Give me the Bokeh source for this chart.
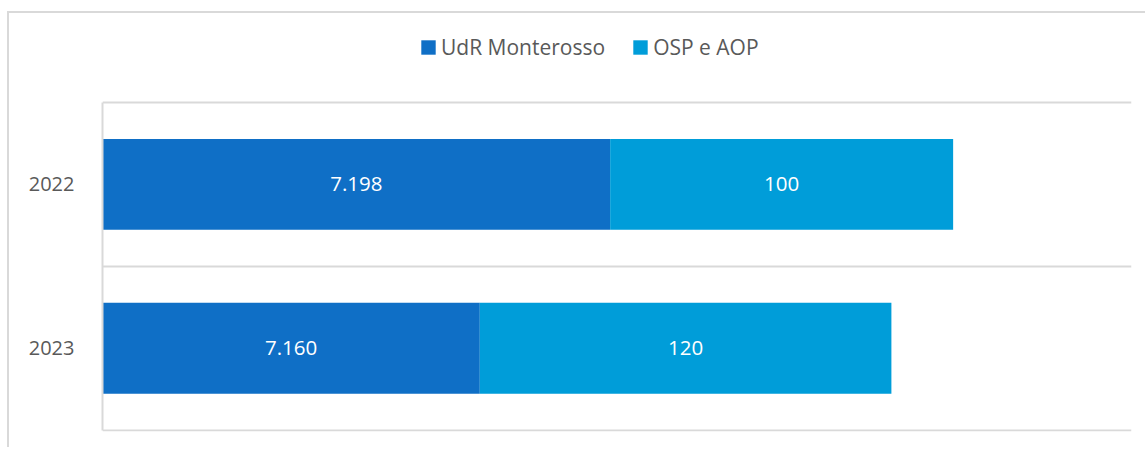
from bokeh.plotting import figure
from bokeh.models import Range1d, FixedTicker, Legend, LegendItem, ColumnDataSource
from bokeh.embed import file_html
from bokeh.resources import INLINE
from bokeh.core.properties import value

years = ["2022", "2023"]
udr = [7198, 7160]
osp = [100, 120]
series_names = ["UdR Monterosso", "OSP e AOP"]
colors = ["#0F6FC6", "#009DD9"]
X_MIN, X_MAX = 7050, 7350

FONT = "Open Sans"
n = len(years)
ypos = [n - i - 0.5 for i in range(n)]
TOP_PAD = 0.543   # empty band above the bars that holds the legend
BOT_PAD = 0.008


def fmt(v):
    return f"{v:,}".replace(",", ".")


end1 = udr
end2 = [a + b for a, b in zip(udr, osp)]
src = ColumnDataSource(dict(
    y=ypos,
    l1=[0] * n, r1=end1,
    l2=end1, r2=end2,
    c1=[(max(0, X_MIN) + r) / 2 for r in end1],
    c2=[(l + r) / 2 for l, r in zip(end1, end2)],
    t1=[fmt(v) for v in udr],
    t2=[fmt(v) for v in osp],
))

p = figure(width=1138, height=436, x_range=Range1d(X_MIN, X_MAX),
           y_range=Range1d(-BOT_PAD, n + TOP_PAD),
           output_backend="svg", toolbar_location=None,
           min_border_left=93, min_border_right=16, min_border_bottom=18, min_border_top=0,
           x_axis_location=None)
p.styles = {"border-left": "2px solid #d9d9d9", "border-top": "2px solid #d9d9d9",
            "margin-top": "11px", "margin-left": "7px"}
p.outline_line_color = None
p.background_fill_color = "white"
p.xgrid.visible = False
p.ygrid.ticker = FixedTicker(ticks=list(range(n + 1)))
p.ygrid.grid_line_color = "#d9d9d9"
p.ygrid.grid_line_width = 2

p.yaxis.ticker = FixedTicker(ticks=ypos)
p.yaxis.bounds = (0, n)
p.yaxis.major_label_overrides = {y: lab for y, lab in zip(ypos, years)}
p.yaxis.axis_line_color = "#d9d9d9"
p.yaxis.axis_line_width = 2
p.yaxis.major_tick_line_color = None
p.yaxis.minor_tick_line_color = None
p.yaxis.major_label_text_font = FONT
p.yaxis.major_label_text_font_size = "20px"
p.yaxis.major_label_text_color = "#595959"
p.yaxis.major_label_standoff = 22

bh = 0.555
r1 = p.hbar(y="y", left="l1", right="r1", height=bh, source=src, color=colors[0], line_color=None)
r2 = p.hbar(y="y", left="l2", right="r2", height=bh, source=src, color=colors[1], line_color=None)

for xc, tc in (("c1", "t1"), ("c2", "t2")):
    p.text(x=xc, y="y", text=tc, source=src, text_color="white", text_font=value(FONT),
           text_font_size="20.5px", text_align="center", text_baseline="middle")

legend = Legend(items=[LegendItem(label=series_names[0], renderers=[r1]),
                       LegendItem(label=series_names[1], renderers=[r2])],
                orientation="horizontal", location=(317, 370),
                glyph_height=18, glyph_width=18, label_standoff=4, spacing=26,
                padding=0, margin=0, border_line_color=None, background_fill_alpha=0,
                label_text_font=FONT, label_text_font_size="21px", label_text_color="#595959")
p.add_layout(legend, "center")

open("out.html", "w").write(file_html(p, INLINE))
